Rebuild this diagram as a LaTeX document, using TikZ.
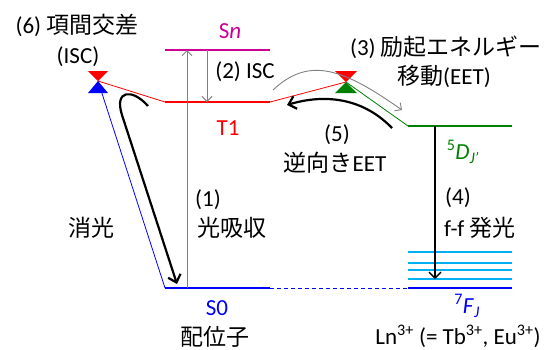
\documentclass[tikz,border=0pt]{standalone}
\usepackage{fontspec}
\setmainfont{Carlito}
\newfontfamily\jp{Noto Sans CJK JP}
\usetikzlibrary{arrows.meta,calc}
\definecolor{magen}{RGB}{204,0,153}
\definecolor{grn}{RGB}{0,128,0}
\definecolor{cyn}{RGB}{0,176,240}
\definecolor{gry}{RGB}{128,128,128}
\begin{document}
\begin{tikzpicture}[x=1pt,y=-1pt, font=\fontsize{23}{27}\selectfont,
  txt/.style={inner sep=0pt, anchor=center},
  lvl/.style={line width=1.6pt},
  slim/.style={line width=0.8pt},
  garrow/.style={gry, line width=0.9pt, -{Straight Barb[length=5pt,width=10pt]}},
  barrow/.style={black, line width=2.2pt, -{Straight Barb[length=7pt,width=13pt]}},
]
\useasboundingbox (0,0) rectangle (546,349);
% level coordinates
\coordinate (SnL) at (165,50);  \coordinate (SnR) at (270,50);
\coordinate (T1L) at (165,102); \coordinate (T1R) at (270,102);
\coordinate (S0L) at (165,288); \coordinate (S0R) at (270,288);
\coordinate (FL) at (408,288);  \coordinate (FR) at (512,288);
\coordinate (DL) at (408,126);  \coordinate (DR) at (512,126);
\coordinate (tL) at (98,81);    \coordinate (tR) at (346,82);
% slanted lines
\draw[blue, slim] (tL) -- (S0L);
\draw[red, slim] (tL) -- (T1L);
\draw[red, slim] (T1R) -- (tR);
\draw[grn, slim] (tR) -- (DL);
% levels
\draw[magen, line width=1.8pt] (SnL) -- (SnR);
\draw[red, lvl] (T1L) -- (T1R);
\draw[blue, lvl] (S0L) -- (S0R);
\draw[blue, slim, dashed, dash pattern=on 4pt off 3pt] (S0R) -- (FL);
\draw[blue, line width=1.8pt] (FL) -- (FR);
\draw[grn, lvl] (DL) -- (DR);
\foreach \yy/\nm in {252/c1,263/c2,270/c3,279/c4}{
  \coordinate (\nm L) at (408,\yy); \coordinate (\nm R) at (512,\yy);
  \draw[cyn, lvl] (\nm L) -- (\nm R);
}
% triangles
\fill[red] ($(tL)+(-10,-10)$) -- ($(tL)+(10,-10)$) -- (tL) -- cycle;
\fill[blue] (tL) -- ($(tL)+(10,12)$) -- ($(tL)+(-10,12)$) -- cycle;
\fill[red] ($(tR)+(-11,-11)$) -- ($(tR)+(11,-11)$) -- (tR) -- cycle;
\fill[grn] (tR) -- ($(tR)+(11,11)$) -- ($(tR)+(-11,11)$) -- cycle;
% arrows
\coordinate (a1s) at (187,288); \coordinate (a1e) at (187,50);
\draw[garrow] (a1s) -- (a1e);
\coordinate (a2s) at (207,50); \coordinate (a2e) at (207,102);
\draw[garrow] (a2s) -- (a2e);
\coordinate (a3s) at (273,90); \coordinate (a3e) at (402,110);
\draw[garrow] (a3s) .. controls (310,55) and (345,70) .. (a3e);
\coordinate (a4s) at (435,126); \coordinate (a4e) at (435,279);
\draw[black, line width=1.4pt, -{Straight Barb[length=6pt,width=12pt]}] (a4s) -- (a4e);
\coordinate (a5s) at (392,128); \coordinate (a5e) at (287,105);
\draw[barrow] (a5s) .. controls (360,95) and (320,95) .. (a5e);
\coordinate (a6s) at (148,106); \coordinate (a6m) at (122,115); \coordinate (a6e) at (177,284);
\draw[barrow] (a6s) .. controls (132,88) and (114,90) .. (a6m) -- (a6e);
% texts
\node[txt] (t6a) at (77,25) {(6) {\jp 項間交差}};
\node[txt] (t6b) at (78,57) {(ISC)};
\node[txt, text=magen] (tSn) at (230,31) {S\textit{n}};
\node[txt] (t2) at (245,72) {(2) ISC};
\node[txt, text=red] (tT1) at (228,128) {T1};
\node[txt] (t3a) at (446,47) {(3) {\jp 励起エネルギー}};
\node[txt] (t3b) at (444,76) {{\jp 移動}(EET)};
\node[txt] (t5a) at (337,135) {(5)};
\node[txt] (t5b) at (335,163) {{\jp 逆向き}EET};
\node[txt, text=grn] (tD) at (463,152) {\textsuperscript{5}\textit{D}\textsubscript{\textit{J'}}};
\node[txt] (t1a) at (208,200) {(1)};
\node[txt] (t1b) at (232,228) {\jp 光吸収};
\node[txt] (tq) at (91,228) {\jp 消光};
\node[txt, text=blue] (tS0) at (217,308) {S0};
\node[txt] (tlig) at (215,337) {\jp 配位子};
\node[txt] (t4a) at (458,198) {(4)};
\node[txt, anchor=west] (t4b) at (444,228) {f-f {\jp 発光}};
\node[txt, text=blue] (tF) at (467,306) {\textsuperscript{7}\textit{F}\textsubscript{\textit{J}}};
\node[txt] (tLn) at (458,336.5) {Ln\textsuperscript{3+} (= Tb\textsuperscript{3+}, Eu\textsuperscript{3+})};
\end{tikzpicture}
\end{document}
